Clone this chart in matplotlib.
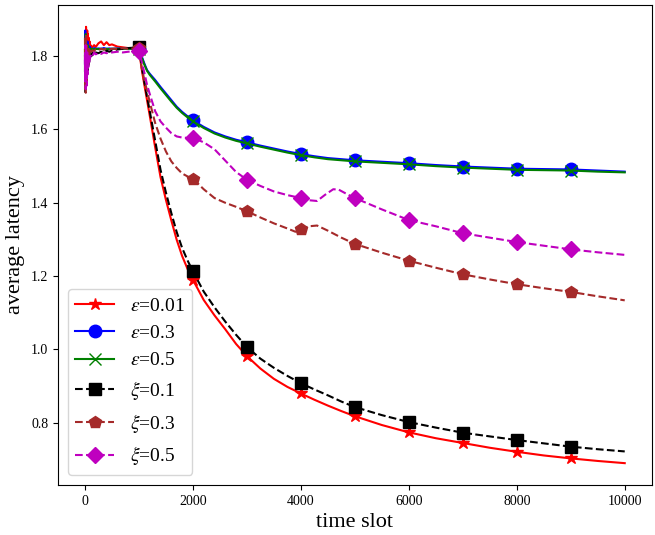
import matplotlib
matplotlib.use("Agg")
import matplotlib.pyplot as plt

plt.rcParams['font.family'] = ['Liberation Serif', 'DejaVu Serif']
plt.rcParams['mathtext.fontset'] = 'stix'

# ---- data ----
early_x = [0, 5, 10, 15, 20, 25, 30, 36, 42, 48, 55, 62, 70, 78, 86, 95, 105, 120, 140, 170,
           200, 250, 300, 350, 400, 450, 500, 600, 700, 800, 900]

eps001_early = [1.80, 1.72, 1.86, 1.75, 1.88, 1.78, 1.85, 1.76, 1.87, 1.79, 1.86, 1.80, 1.85, 1.81, 1.84, 1.82,
                1.83, 1.82, 1.825, 1.83, 1.825, 1.835, 1.84, 1.83, 1.838, 1.83, 1.832, 1.826, 1.824, 1.822, 1.821]
eps03_early = [1.78, 1.87, 1.72, 1.85, 1.76, 1.84, 1.74, 1.83, 1.78, 1.84, 1.79, 1.83, 1.80, 1.82, 1.81, 1.825,
               1.815, 1.82, 1.818, 1.822, 1.82, 1.821, 1.82, 1.822, 1.82, 1.821, 1.82, 1.821, 1.82, 1.821, 1.82]
eps05_early = [1.76, 1.84, 1.71, 1.86, 1.77, 1.83, 1.75, 1.82, 1.79, 1.83, 1.78, 1.82, 1.80, 1.81, 1.82, 1.81,
               1.82, 1.815, 1.82, 1.818, 1.82, 1.819, 1.82, 1.818, 1.82, 1.819, 1.82, 1.82, 1.82, 1.82, 1.82]
xi01_early = [1.82, 1.70, 1.80, 1.73, 1.83, 1.74, 1.79, 1.72, 1.81, 1.76, 1.80, 1.77, 1.79, 1.78, 1.80, 1.795,
              1.805, 1.80, 1.81, 1.805, 1.81, 1.808, 1.812, 1.81, 1.815, 1.812, 1.815, 1.818, 1.82, 1.822, 1.823]
xi03_early = [1.85, 1.71, 1.84, 1.70, 1.86, 1.75, 1.83, 1.72, 1.82, 1.77, 1.81, 1.78, 1.82, 1.80, 1.815, 1.81,
              1.815, 1.812, 1.816, 1.814, 1.818, 1.816, 1.82, 1.818, 1.82, 1.818, 1.82, 1.82, 1.822, 1.82, 1.821]
xi05_early = [1.79, 1.73, 1.83, 1.71, 1.82, 1.74, 1.80, 1.72, 1.81, 1.75, 1.79, 1.77, 1.80, 1.78, 1.79, 1.795,
              1.80, 1.805, 1.80, 1.81, 1.805, 1.808, 1.806, 1.81, 1.808, 1.81, 1.81, 1.812, 1.81, 1.812, 1.813]

late_x = [1000, 1050, 1100, 1150, 1200, 1300, 1400, 1500, 1600, 1700, 1800, 1900, 2000, 2200, 2400, 2600,
          2800, 3000, 3250, 3500, 3750, 4000, 4250, 4500, 4750, 5000, 5500, 6000, 6500, 7000, 7500, 8000,
          8500, 9000, 9500, 10000]

eps001_late = [1.820, 1.765, 1.722, 1.680, 1.638, 1.552, 1.470, 1.408, 1.352, 1.299, 1.255, 1.220, 1.190,
               1.135, 1.093, 1.055, 1.015, 0.982, 0.948, 0.920, 0.898, 0.880, 0.863, 0.847, 0.832, 0.818,
               0.794, 0.774, 0.758, 0.745, 0.732, 0.721, 0.711, 0.703, 0.696, 0.690]
eps03_late = [1.820, 1.800, 1.780, 1.762, 1.752, 1.735, 1.716, 1.698, 1.680, 1.662, 1.648, 1.636, 1.625,
              1.607, 1.592, 1.581, 1.572, 1.565, 1.556, 1.548, 1.540, 1.533, 1.527, 1.522, 1.519, 1.516,
              1.512, 1.508, 1.503, 1.499, 1.496, 1.493, 1.492, 1.491, 1.488, 1.485]
eps05_late = [1.820, 1.797, 1.777, 1.760, 1.749, 1.731, 1.712, 1.694, 1.676, 1.659, 1.645, 1.633, 1.622,
              1.604, 1.589, 1.578, 1.569, 1.562, 1.553, 1.545, 1.537, 1.530, 1.524, 1.519, 1.516, 1.513,
              1.509, 1.505, 1.500, 1.496, 1.493, 1.490, 1.489, 1.488, 1.485, 1.483]
xi01_late = [1.825, 1.772, 1.730, 1.690, 1.650, 1.570, 1.490, 1.428, 1.372, 1.320, 1.277, 1.243, 1.213,
             1.158, 1.115, 1.076, 1.040, 1.007, 0.975, 0.950, 0.928, 0.908, 0.891, 0.875, 0.858, 0.843,
             0.821, 0.802, 0.787, 0.773, 0.763, 0.753, 0.744, 0.735, 0.728, 0.722]

xi03_x = [1000, 1050, 1100, 1150, 1200, 1300, 1400, 1500, 1600, 1700, 1800, 1900, 2000, 2200, 2400, 2600,
          2800, 3000, 3250, 3500, 3750, 3900, 4000, 4150, 4300, 4500, 4750, 5000, 5500, 6000, 6500, 7000,
          7500, 8000, 8500, 9000, 9500, 10000]
xi03_late = [1.821, 1.770, 1.735, 1.706, 1.675, 1.618, 1.575, 1.540, 1.513, 1.495, 1.480, 1.472, 1.466,
             1.437, 1.413, 1.400, 1.389, 1.377, 1.360, 1.344, 1.330, 1.321, 1.328, 1.336, 1.338, 1.324,
             1.305, 1.288, 1.264, 1.242, 1.223, 1.205, 1.191, 1.178, 1.167, 1.157, 1.145, 1.134]

xi05_x = [1000, 1050, 1100, 1150, 1200, 1300, 1400, 1500, 1600, 1700, 1800, 1900, 2000, 2200, 2400, 2600,
          2800, 3000, 3250, 3500, 3750, 4000, 4150, 4300, 4450, 4600, 4700, 4850, 5000, 5500, 6000, 6500,
          7000, 7500, 8000, 8500, 9000, 9500, 10000]
xi05_late = [1.814, 1.785, 1.755, 1.722, 1.697, 1.650, 1.622, 1.605, 1.590, 1.581, 1.578, 1.577, 1.577,
             1.565, 1.546, 1.515, 1.484, 1.463, 1.446, 1.431, 1.421, 1.413, 1.407, 1.405, 1.422, 1.437,
             1.436, 1.424, 1.413, 1.382, 1.353, 1.336, 1.317, 1.305, 1.293, 1.283, 1.273, 1.265, 1.258]

labels = [r'$\varepsilon$=0.01', r'$\varepsilon$=0.3', r'$\varepsilon$=0.5',
          r'$\xi$=0.1', r'$\xi$=0.3', r'$\xi$=0.5']

series = [
    (early_x + late_x, eps001_early + eps001_late),
    (early_x + late_x, eps03_early + eps03_late),
    (early_x + late_x, eps05_early + eps05_late),
    (early_x + late_x, xi01_early + xi01_late),
    (early_x + xi03_x, xi03_early + xi03_late),
    (early_x + xi05_x, xi05_early + xi05_late),
]
styles = [
    dict(color='red', ls='-', marker='*', ms=9),
    dict(color='blue', ls='-', marker='o', ms=9),
    dict(color='green', ls='-', marker='x', ms=9, mew=1.0),
    dict(color='black', ls='--', marker='s', ms=9),
    dict(color='brown', ls='--', marker='p', ms=9),
    dict(color='m', ls='--', marker='D', ms=8.5),
]

fig = plt.figure(figsize=(6.55, 5.35), dpi=100)
ax = fig.add_axes([0.0885, 0.0935, 0.9065, 0.8972])

for (xs, ys), lab, st in zip(series, labels, styles):
    idx = [i for i, v in enumerate(xs) if v > 0 and v % 1000 == 0 and v < 10000]
    ax.plot(xs, ys, label=lab, lw=1.5, markevery=idx, **st)

ax.set_xlabel('time slot', fontsize=16)
ax.set_ylabel('average latency', fontsize=16)
ax.tick_params(labelsize=10)
ax.set_xticks([0, 2000, 4000, 6000, 8000, 10000])
ax.set_yticks([0.8, 1.0, 1.2, 1.4, 1.6, 1.8])
ax.legend(loc='lower left', fontsize=14)

fig.savefig('out.png', dpi=100)
